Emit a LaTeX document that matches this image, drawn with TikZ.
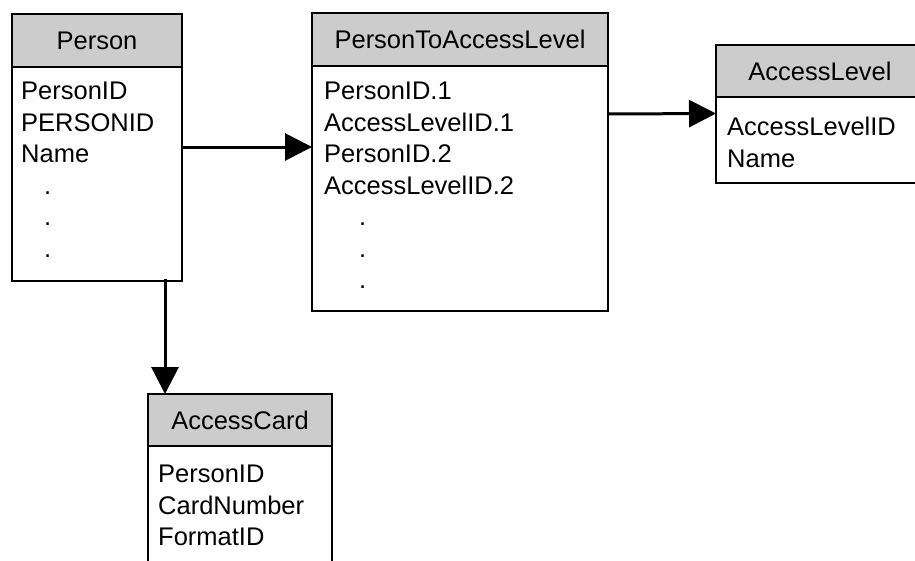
\documentclass[tikz,border=0pt]{standalone}
\usepackage{fontspec}
\setmainfont{Liberation Sans}
\usetikzlibrary{arrows.meta}
\definecolor{hdrgray}{RGB}{204,204,204}
\begin{document}
\begin{tikzpicture}[x=1pt,y=-1pt,
  every node/.style={font=\fontsize{25.5}{31.5}\selectfont},
  hdr/.style={draw, line width=2pt, fill=hdrgray, anchor=north west, inner sep=0pt, outer sep=0pt},
  bodybox/.style={draw, line width=2pt, fill=white, anchor=north west, inner sep=0pt, outer sep=0pt},
  fields/.style={anchor=north west, align=left, inner sep=0pt},
  link/.style={line width=3pt, -{Triangle[length=27pt,width=27pt]}}]
\useasboundingbox (0,0) rectangle (915,560);
\clip (0,0) rectangle (915,560);
\fill[white] (0,0) rectangle (915,560);
% Person
\node[hdr, minimum width=170pt, minimum height=53pt] (personh) at (12,14) {Person};
\node[bodybox, minimum width=170pt, minimum height=214pt] (personb) at (personh.south west) {};
\node[fields] (personf) at (21,82) {PersonID\\PERSONID\\Name\\\hspace*{23pt}.\\\hspace*{23pt}.\\\hspace*{23pt}.};
% PersonToAccessLevel
\node[hdr, minimum width=296pt, minimum height=53pt] (ptalh) at (312,13) {PersonToAccessLevel};
\node[bodybox, minimum width=296pt, minimum height=245pt] (ptalb) at (ptalh.south west) {};
\node[fields] (ptalf) at (324,82) {PersonID.1\\AccessLevelID.1\\PersonID.2\\AccessLevelID.2\\\hspace*{35pt}.\\\hspace*{35pt}.\\\hspace*{35pt}.};
% AccessLevel
\node[hdr, minimum width=208pt, minimum height=52pt] (alh) at (716,45) {AccessLevel};
\node[bodybox, minimum width=208pt, minimum height=86pt] (alb) at (alh.south west) {};
\node[fields] (alf) at (727,117) {AccessLevelID\\Name};
% AccessCard
\node[hdr, minimum width=184pt, minimum height=52pt] (ach) at (148,394) {AccessCard};
\node[bodybox, minimum width=184pt, minimum height=160pt] (acb) at (ach.south west) {};
\node[fields] (acf) at (158,465) {PersonID\\CardNumber\\FormatID};
% connectors
\draw[link] ([yshift=-80pt]personb.north east) -- ([yshift=-81pt]ptalb.north west);
\draw[link] ([yshift=-48pt]ptalb.north east) -- ([yshift=-16.5pt]alb.north west);
\draw[link] ([xshift=153pt,yshift=2pt]personb.south west) -- ([xshift=17pt]ach.north west);
\end{tikzpicture}
\end{document}
